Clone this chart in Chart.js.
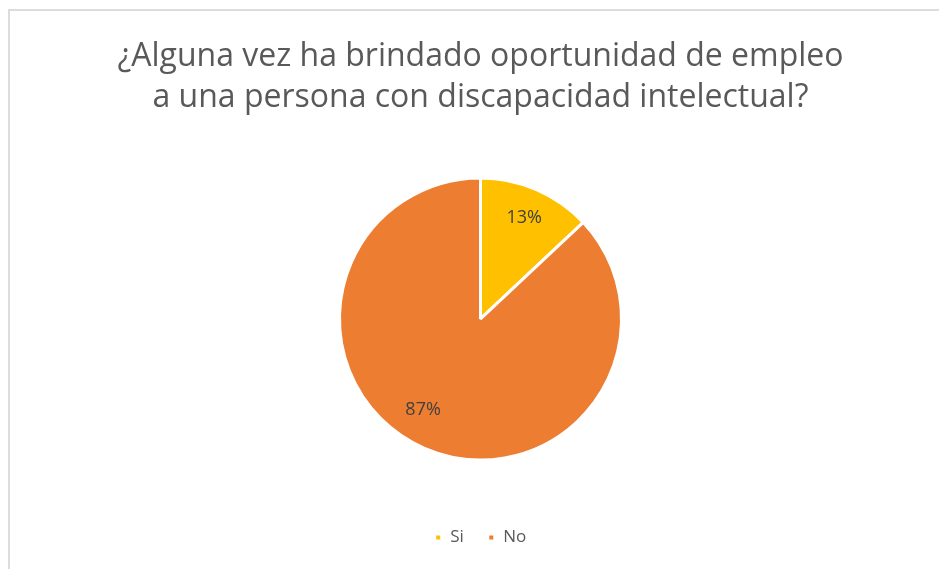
<!DOCTYPE html>
<html>
<head>
<meta charset="utf-8">
<script src="https://cdn.jsdelivr.net/npm/chart.js@4/dist/chart.umd.min.js"></script>
<style>
  html, body { margin: 0; padding: 0; background: #fff; }
  #wrap { position: relative; width: 939px; height: 569px; }
  #frame {
    position: absolute; left: 8px; top: 9px; right: 0; bottom: 0;
    border-top: 2px solid #dcdcdc; border-left: 2px solid #dcdcdc;
  }
  canvas { position: absolute; left: 0; top: 0; }
</style>
</head>
<body>
<div id="wrap">
  <div id="frame"></div>
  <canvas id="chart_empleo" width="939" height="569"></canvas>
</div>
<script>
// Survey answers (percent of respondents)
const categories = ['Si', 'No'];
const percentages = [13, 87];
const sliceColors = ['#FFC000', '#ED7D31'];
const titleLines = [
  '¿Alguna vez ha brindado oportunidad de empleo',
  'a una persona con discapacidad intelectual?'
];

// label placement inside each slice: angle nudge (deg) and share of radius
const labelShift = [0, 9];
const labelDepth = [0.78, 0.76];

// Percent labels placed inside each slice
const sliceLabels = {
  id: 'sliceLabels',
  afterDatasetsDraw(chart) {
    const ctx = chart.ctx;
    const meta = chart.getDatasetMeta(0);
    ctx.save();
    ctx.font = '18px "Open Sans", sans-serif';
    ctx.fillStyle = '#404040';
    ctx.textAlign = 'center';
    ctx.textBaseline = 'middle';
    meta.data.forEach((arc, i) => {
      const p = arc.getProps(['x', 'y', 'startAngle', 'endAngle', 'outerRadius'], true);
      const mid = (p.startAngle + p.endAngle) / 2 + labelShift[i] * Math.PI / 180;
      const r = p.outerRadius * labelDepth[i];
      ctx.fillText(percentages[i] + '%', p.x + Math.cos(mid) * r, p.y + Math.sin(mid) * r);
    });
    ctx.restore();
  }
};

const ctx = document.getElementById('chart_empleo').getContext('2d');
new Chart(ctx, {
  type: 'pie',
  data: {
    labels: categories,
    datasets: [{
      data: percentages,
      backgroundColor: sliceColors,
      borderColor: '#ffffff',
      borderWidth: 3,
      radius: 141
    }]
  },
  options: {
    responsive: false,
    animation: false,
    layout: { padding: { top: 0, bottom: 13, left: 22, right: 0 } },
    plugins: {
      title: {
        display: true,
        text: titleLines,
        color: '#595959',
        font: { family: '"Open Sans", sans-serif', size: 32, weight: 'normal', lineHeight: 1.28 },
        padding: { top: 36, bottom: 15 }
      },
      legend: {
        position: 'bottom',
        labels: {
          color: '#595959',
          font: { family: '"Open Sans", sans-serif', size: 17 },
          boxWidth: 7,
          boxHeight: 7,
          padding: 24
        }
      },
      tooltip: { enabled: false }
    }
  },
  plugins: [sliceLabels]
});
</script>
</body>
</html>
